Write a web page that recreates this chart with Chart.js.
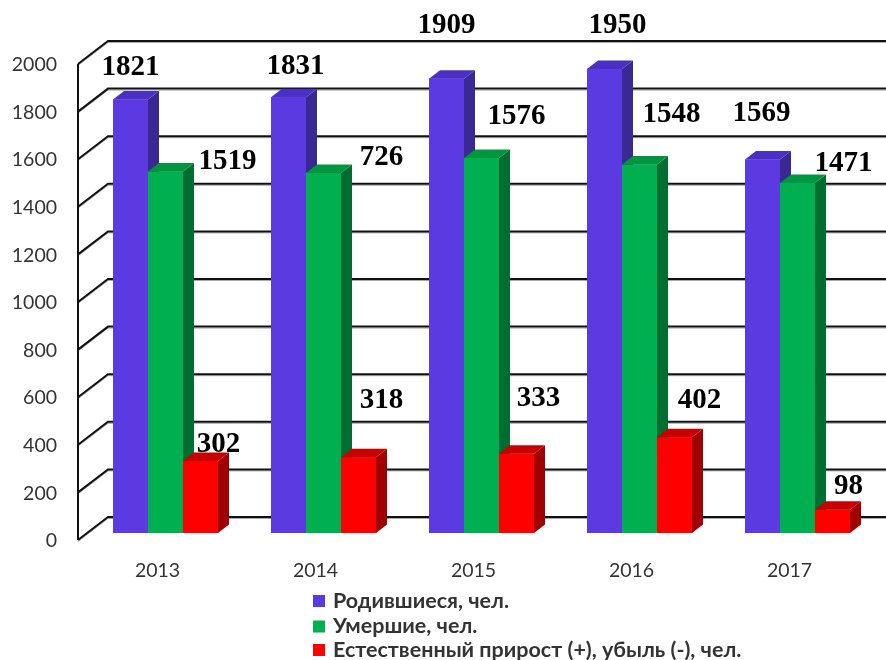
<!DOCTYPE html>
<html><head><meta charset="utf-8">
<script src="https://cdn.jsdelivr.net/npm/chart.js@4.4.0/dist/chart.umd.min.js"></script>
<style>html,body{margin:0;padding:0;background:#fff}#wrap{width:886px;height:660px;position:relative}</style>
</head><body><div id="wrap"><canvas id="c" width="886" height="660"></canvas></div>
<script>
// ---- data ----
const years = ['2013', '2014', '2015', '2016', '2017'];
const births = [1821, 1831, 1909, 1950, 1569];
const deaths = [1519, 1513, 1576, 1548, 1471];
const naturalGrowth = [302, 318, 333, 402, 98];
// value labels as printed on the original chart
const birthsLabels = ['1821', '1831', '1909', '1950', '1569'];
const deathsLabels = ['1519', '726', '1576', '1548', '1471'];
const growthLabels = ['302', '318', '333', '402', '98'];
const seriesNames = ['Родившиеся, чел.', 'Умершие, чел.', 'Естественный прирост (+), убыль (-), чел.'];
const yMin = 0, yMax = 2000, yStep = 200;

// ---- layout / style ----
const labelShift = [
  [[0, -34], [7, -33], [0, -55], [13, -45], [-1, -48]],
  [[62, -12], [58, -17], [35, -43], [32, -52], [46, -21]],
  [[18, -19], [23, -59], [22, -57], [25, -39], [16, -25]]
];
const depth = { dx: 11, dy: -8.5 };
const wall = { frontX: 78, backX: 108, frontDy: 7, backDy: -16 };
const tickFont = { family: 'Lato', size: 19.5 };
const tickColor = '#333333';

const valueLabelSets = [birthsLabels, deathsLabels, growthLabels];

const wallPlugin = {
  id: 'wall',
  beforeDatasetsDraw(chart) {
    const ctx = chart.ctx, ys = chart.scales.y;
    ctx.save();
    ys.ticks.forEach(t => {
      const yb = ys.getPixelForValue(t.value);
      ctx.strokeStyle = '#a8a8a8'; ctx.lineWidth = 1;
      ctx.beginPath();
      ctx.moveTo(wall.frontX, yb + wall.frontDy + 1.5);
      ctx.lineTo(wall.backX, yb + wall.backDy + 1.5);
      ctx.lineTo(chart.width, yb + wall.backDy + 1.5);
      ctx.stroke();
      ctx.strokeStyle = '#111'; ctx.lineWidth = 2;
      ctx.beginPath();
      ctx.moveTo(wall.frontX, yb + wall.frontDy);
      ctx.lineTo(wall.backX, yb + wall.backDy);
      ctx.lineTo(chart.width, yb + wall.backDy);
      ctx.stroke();
    });
    ctx.strokeStyle = '#111'; ctx.lineWidth = 2;
    ctx.beginPath();
    ctx.moveTo(wall.frontX, ys.getPixelForValue(yMin) + wall.frontDy);
    ctx.lineTo(wall.frontX, ys.getPixelForValue(yMax) + wall.frontDy);
    ctx.stroke();
    ctx.restore();
  }
};

const bar3dPlugin = {
  id: 'bar3d',
  afterDatasetsDraw(chart) {
    const ctx = chart.ctx;
    const n = chart.data.labels.length;
    ctx.save();
    for (let i = 0; i < n; i++) {
      chart.data.datasets.forEach((ds, d) => {
        const bar = chart.getDatasetMeta(d).data[i];
        const l = bar.x - bar.width / 2, r = bar.x + bar.width / 2, t = bar.y, b = bar.base;
        ctx.fillStyle = ds.backgroundColor;
        ctx.fillRect(l, t, r - l, b - t);
        ctx.fillStyle = ds.sideColor;
        ctx.beginPath();
        ctx.moveTo(r, b); ctx.lineTo(r, t); ctx.lineTo(r + depth.dx, t + depth.dy); ctx.lineTo(r + depth.dx, b + depth.dy);
        ctx.closePath(); ctx.fill();
        ctx.fillStyle = ds.topColor;
        ctx.beginPath();
        ctx.moveTo(l, t); ctx.lineTo(r, t); ctx.lineTo(r + depth.dx, t + depth.dy); ctx.lineTo(l + depth.dx, t + depth.dy);
        ctx.closePath(); ctx.fill();
      });
    }
    ctx.fillStyle = '#000';
    ctx.font = 'bold 29px "Liberation Serif"';
    ctx.textAlign = 'center';
    ctx.textBaseline = 'alphabetic';
    chart.data.datasets.forEach((ds, d) => {
      chart.getDatasetMeta(d).data.forEach((bar, i) => {
        const s = labelShift[d][i];
        ctx.fillText(valueLabelSets[d][i], bar.x + s[0], bar.y + s[1] + 9.5);
      });
    });
    ctx.restore();
  }
};

const legendPlugin = {
  id: 'customLegend',
  afterDraw(chart) {
    const ctx = chart.ctx;
    const rows = [600, 625.5, 649];
    ctx.save();
    ctx.font = 'bold 21.5px Lato';
    ctx.textAlign = 'left';
    ctx.textBaseline = 'alphabetic';
    chart.data.datasets.forEach((ds, d) => {
      const cy = rows[d];
      ctx.fillStyle = ds.backgroundColor;
      ctx.fillRect(313, cy - 5, 12, 12);
      ctx.fillStyle = '#333333';
      ctx.fillText(ds.label, 333, cy + 7.5);
    });
    ctx.restore();
  }
};

new Chart(document.getElementById('c'), {
  type: 'bar',
  data: {
    labels: years,
    datasets: [
      { label: seriesNames[0], data: births, backgroundColor: '#5B3BE1', sideColor: '#3A2895', topColor: '#4A30C4' },
      { label: seriesNames[1], data: deaths, backgroundColor: '#00B050', sideColor: '#006E30', topColor: '#00953F' },
      { label: seriesNames[2], data: naturalGrowth, backgroundColor: '#FF0000', sideColor: '#A00000', topColor: '#C80000' }
    ]
  },
  options: {
    responsive: false,
    animation: false,
    devicePixelRatio: 1,
    layout: { padding: { top: 57, right: 9.5, left: 0, bottom: 0 } },
    datasets: { bar: { barPercentage: 1, categoryPercentage: 0.6646, borderWidth: 0 } },
    plugins: { legend: { display: false }, title: { display: false }, tooltip: { enabled: false } },
    scales: {
      x: {
        grid: { display: false, drawTicks: false }, border: { display: false },
        ticks: { font: tickFont, color: tickColor, padding: 26, labelOffset: -8 },
        afterFit(s) { s.height = 127; }
      },
      y: {
        min: yMin, max: yMax,
        grid: { display: false, drawTicks: false }, border: { display: false },
        ticks: { stepSize: yStep, font: tickFont, color: tickColor, padding: 29.5, labelOffset: 8, autoSkip: false,
                 callback: v => String(v) },
        afterFit(s) { s.width = 86.5; }
      }
    }
  },
  plugins: [wallPlugin, bar3dPlugin, legendPlugin]
});
</script>
</body></html>
